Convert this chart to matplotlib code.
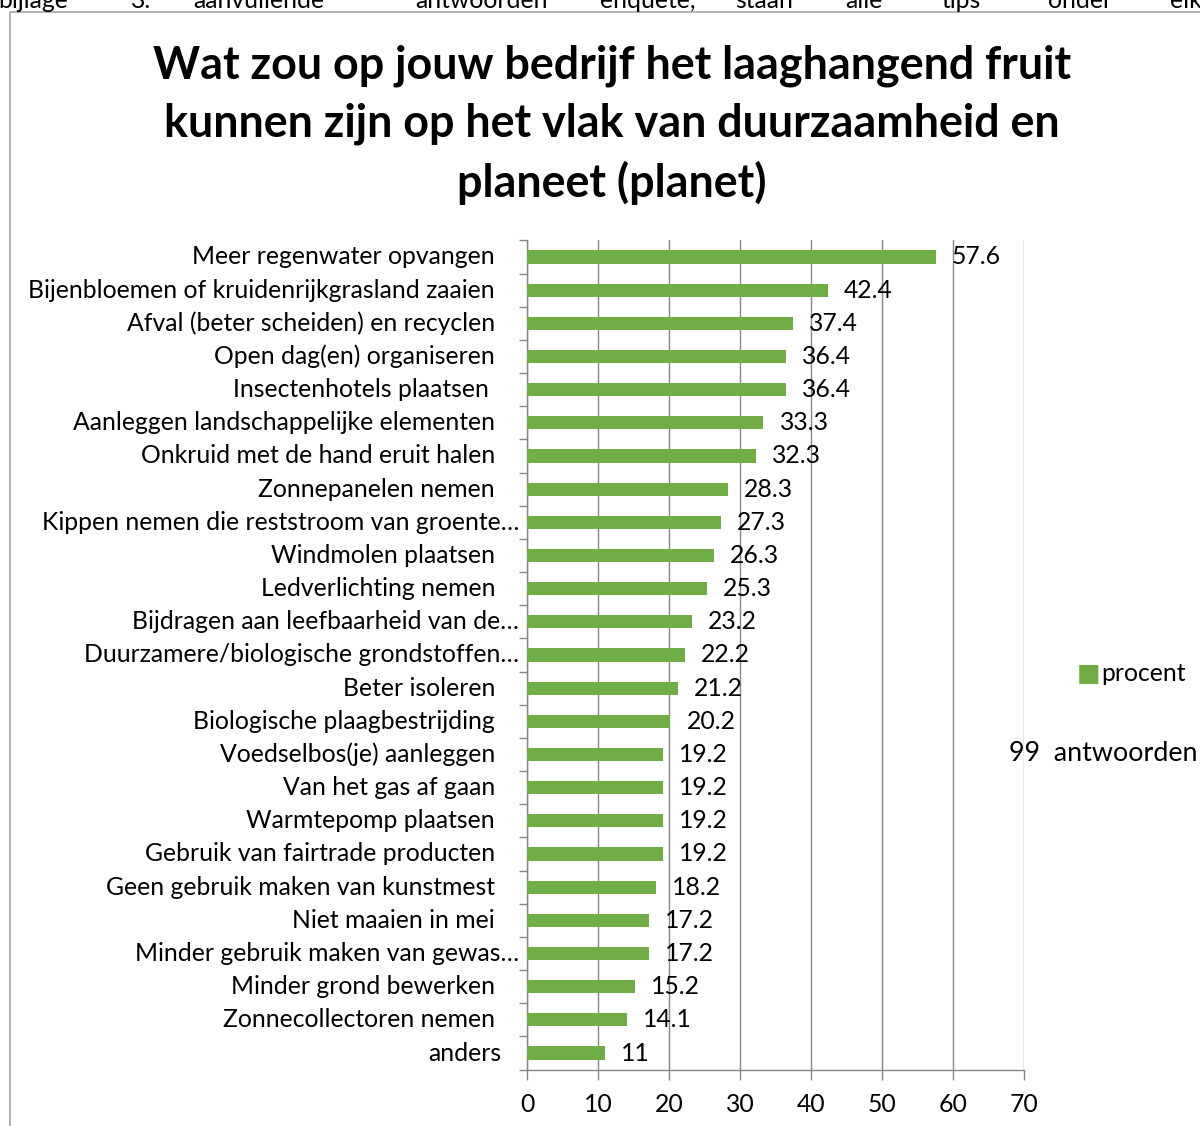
import matplotlib
matplotlib.use("Agg")
import matplotlib.pyplot as plt
import matplotlib.transforms as mtransforms
from matplotlib.patches import Rectangle

plt.rcParams['font.family'] = ['Lato', 'DejaVu Sans']

categories = [
    "Meer regenwater opvangen",
    "Bijenbloemen of kruidenrijkgrasland zaaien",
    "Afval (beter scheiden) en recyclen",
    "Open dag(en) organiseren",
    "Insectenhotels plaatsen ",
    "Aanleggen landschappelijke elementen",
    "Onkruid met de hand eruit halen",
    "Zonnepanelen nemen",
    "Kippen nemen die reststroom van groente\u2026",
    "Windmolen plaatsen",
    "Ledverlichting nemen",
    "Bijdragen aan leefbaarheid van de\u2026",
    "Duurzamere/biologische grondstoffen\u2026",
    "Beter isoleren",
    "Biologische plaagbestrijding",
    "Voedselbos(je) aanleggen",
    "Van het gas af gaan",
    "Warmtepomp plaatsen",
    "Gebruik van fairtrade producten",
    "Geen gebruik maken van kunstmest",
    "Niet maaien in mei",
    "Minder gebruik maken van gewas\u2026",
    "Minder grond bewerken",
    "Zonnecollectoren nemen",
    "anders",
]
procent = [57.6, 42.4, 37.4, 36.4, 36.4, 33.3, 32.3, 28.3, 27.3, 26.3, 25.3,
           23.2, 22.2, 21.2, 20.2, 19.2, 19.2, 19.2, 19.2, 18.2, 17.2, 17.2,
           15.2, 14.1, 11]
value_labels = ["57.6", "42.4", "37.4", "36.4", "36.4", "33.3", "32.3", "28.3",
                "27.3", "26.3", "25.3", "23.2", "22.2", "21.2", "20.2", "19.2",
                "19.2", "19.2", "19.2", "18.2", "17.2", "17.2", "15.2", "14.1", "11"]
x_ticks = [0, 10, 20, 30, 40, 50, 60, 70]

green = '#70AD47'
gray = '#868686'
fs = 17.8

fig = plt.figure(figsize=(12, 11.26), dpi=100)
ax = fig.add_axes([0.4392, 0.0501, 0.4142, 0.7364])

n = len(categories)
ypos = list(range(n - 1, -1, -1))
ax.barh(ypos, procent, height=0.4, color=green, zorder=3)

ax.set_xlim(0, 70)
ax.set_ylim(-0.5, n - 0.5)
ax.set_xticks(x_ticks)
ax.set_xticklabels([str(t) for t in x_ticks], fontsize=fs)
ax.tick_params(axis='x', length=7, color=gray, width=1, pad=10)
ax.set_yticks([y + 0.5 for y in range(-1, n)])
ax.set_yticklabels([])
ax.tick_params(axis='y', length=6, color=gray, width=1)
ax.grid(axis='x', color=gray, linewidth=1, zorder=0)
for s in ['top', 'right']:
    ax.spines[s].set_visible(False)
for s in ['left', 'bottom']:
    ax.spines[s].set_color(gray)
    ax.spines[s].set_linewidth(1)

# category labels
lab_tr = mtransforms.blended_transform_factory(ax.transAxes, ax.transData)
for y, cat in zip(ypos, categories):
    off = -8 if cat.endswith('\u2026') else -32
    if cat == 'anders':
        off = -26
    t = mtransforms.offset_copy(lab_tr, fig=fig, x=off, y=0, units='dots')
    ax.text(0, y, cat, transform=t, ha='right', va='center', fontsize=fs)

# value labels
for y, v, lab in zip(ypos, procent, value_labels):
    t = mtransforms.offset_copy(ax.transData, fig=fig, x=16, y=0, units='dots')
    ax.text(v, y, lab, transform=t, ha='left', va='center', fontsize=fs, zorder=4)

# title
fig.text(0.51, 0.889, "Wat zou op jouw bedrijf het laaghangend fruit\nkunnen zijn op het vlak van duurzaamheid en\nplaneet (planet)",
         ha='center', va='center', fontsize=32.3, fontweight='bold', linespacing=1.45)

# legend
fig.text(0.9075, 0.4015, "\u25A0", color=green, fontsize=18, ha='center', va='center')
fig.text(0.918, 0.4015, "procent", fontsize=fs, ha='left', va='center')
fig.text(0.8408, 0.331, "99  antwoorden", fontsize=19.4, ha='left', va='center')

# chart frame (cut off at right and bottom)
fig.patches.append(Rectangle((10 / 1200, -0.1), 1.2, 1 - 12 / 1126 + 0.1,
                             transform=fig.transFigure, fill=False,
                             edgecolor='#A6A6A6', linewidth=1.2, clip_on=False))

# cut-off line of page text above the chart
words = ["bijlage", "3.", "aanvullende", "antwoorden", "enquete,", "staan", "alle", "tips", "onder", "elkaa"]
word_x = [-2, 131, 193, 415, 600, 735, 845, 942, 1048, 1170]
for w, x in zip(words, word_x):
    fig.text(x / 1200, 1.0, w, fontsize=fs, ha='left', va='center')

fig.savefig("out.png", dpi=100)
